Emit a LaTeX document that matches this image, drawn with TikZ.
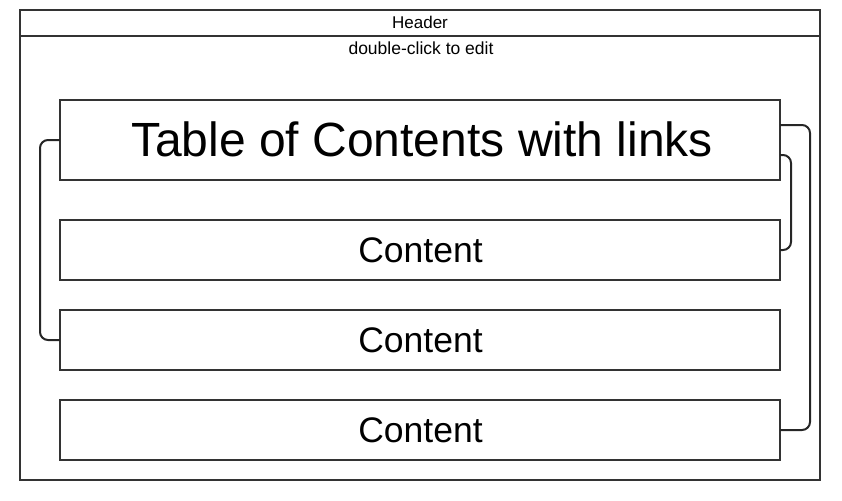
\documentclass[tikz,border=0pt]{standalone}
\usepackage{fontspec}
\setmainfont{Liberation Sans}
\definecolor{lc}{HTML}{333333}
\begin{document}
\begin{tikzpicture}[x=1pt,y=-1pt,
  frame/.style={draw=lc,line width=2pt},
  cbox/.style={draw=lc,line width=2pt,fill=white},
  link/.style={draw=black!85,line width=2pt,rounded corners=8pt},
  txt/.style={inner sep=0pt,anchor=base,text=black}]
\useasboundingbox (0,0) rectangle (842,500);
\draw[frame] (20,10) rectangle (820,480);
\draw[frame] (20,36) -- (820,36);
\node[txt,font=\fontsize{17}{20}\selectfont] (hdr) at (420,29) {Header};
\node[txt,font=\fontsize{17.5}{21}\selectfont] (sub) at (421,55) {double-click to edit};
% boxes
\path[cbox] (60,100) rectangle (780,180);
\path[cbox] (60,220) rectangle (780,280);
\path[cbox] (60,310) rectangle (780,370);
\path[cbox] (60,400) rectangle (780,460);
\node[inner sep=0pt,minimum width=720pt,minimum height=80pt] (toc) at (420,140) {};
\node[inner sep=0pt,minimum width=720pt,minimum height=60pt] (c1) at (420,250) {};
\node[inner sep=0pt,minimum width=720pt,minimum height=60pt] (c2) at (420,340) {};
\node[inner sep=0pt,minimum width=720pt,minimum height=60pt] (c3) at (420,430) {};
\node[txt,font=\fontsize{48}{56}\selectfont] (toct) at (422,156) {Table of Contents with links};
\node[txt,font=\fontsize{35.5}{42}\selectfont] (c1t) at (420.5,262) {Content};
\node[txt,font=\fontsize{35.5}{42}\selectfont] (c2t) at (420.5,352) {Content};
\node[txt,font=\fontsize{35.5}{42}\selectfont] (c3t) at (420.5,442) {Content};
% connectors
\draw[link] (toc.west) -- (40,140) -- (40,340) -- (c2.west);
\draw[link] ([yshift=15pt]toc.east) -- (810,125) -- (810,430) -- (c3.east);
\draw[link] ([yshift=-15pt]toc.east) -- (791,155) -- (791,250) -- (c1.east);
\end{tikzpicture}
\end{document}
